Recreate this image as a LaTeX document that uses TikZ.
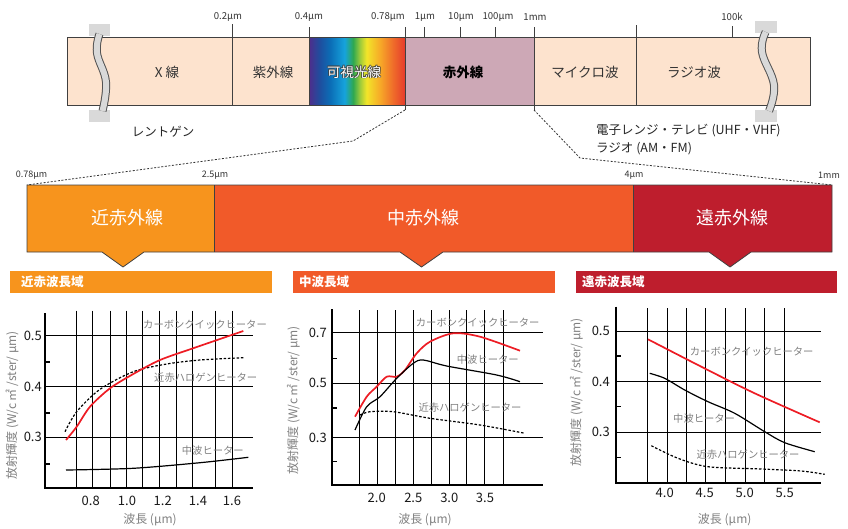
\documentclass[tikz,border=0pt]{standalone}
\usepackage{fontspec}
\setmainfont{Noto Sans CJK JP}
\definecolor{peach}{HTML}{FDE3CE}
\definecolor{mauve}{HTML}{CDA8B6}
\definecolor{orA}{HTML}{F7941D}
\definecolor{orB}{HTML}{F15A29}
\definecolor{crim}{HTML}{BE1E2D}
\definecolor{brk}{HTML}{D9D9D9}
\definecolor{edge}{HTML}{404040}
\definecolor{lblgray}{HTML}{808080}
\definecolor{curvered}{HTML}{ED1C24}
\definecolor{rbA}{HTML}{4F2D8B}
\definecolor{rbB}{HTML}{1F4E9E}
\definecolor{rbC}{HTML}{0B6DB6}
\definecolor{rbD}{HTML}{16A3DC}
\definecolor{rbE}{HTML}{2FA84F}
\definecolor{rbF}{HTML}{9CCB3B}
\definecolor{rbG}{HTML}{F2E529}
\definecolor{rbH}{HTML}{F7A928}
\definecolor{rbI}{HTML}{EF6A2A}
\definecolor{rbJ}{HTML}{E53B2C}
\pgfdeclarehorizontalshading{rainbow}{100bp}{color(0bp)=(rbA); color(25bp)=(rbA); color(30.5bp)=(rbB); color(36bp)=(rbC); color(43.5bp)=(rbD); color(48bp)=(rbE); color(51.5bp)=(rbF); color(55bp)=(rbG); color(62bp)=(rbH); color(69bp)=(rbI); color(75bp)=(rbJ); color(100bp)=(rbJ)}
\tikzset{
  toplbl/.style={font=\fontsize{9.6}{11}\selectfont, text=black!80, inner sep=0pt},
  barlbl/.style={font=\fontsize{13.5}{15}\selectfont, text=black!80, inner sep=0pt},
  midlbl/.style={font=\fontsize{18}{20}\selectfont, text=white, inner sep=0pt},
  hdrlbl/.style={font=\fontsize{12.5}{14}\selectfont\bfseries, text=white, inner sep=0pt, anchor=west},
  notelbl/.style={font=\fontsize{12.5}{14}\selectfont, text=black!85, inner sep=0pt},
  curvelbl/.style={font=\fontsize{10.3}{12}\selectfont, text=lblgray, inner sep=0pt, anchor=west},
  numlbl/.style={font=\fontsize{13}{14}\selectfont, text=black!90, inner sep=0pt},
  axtitle/.style={font=\fontsize{12}{13}\selectfont, text=lblgray, inner sep=0pt},
  gridln/.style={line width=0.9pt, black},
  axisln/.style={line width=1.8pt, black},
  minortk/.style={line width=1.4pt, black},
  redcurve/.style={line width=1.7pt, curvered},
  blkcurve/.style={line width=1.2pt, black},
  dotcurve/.style={line width=1.2pt, black, dash pattern=on 2.5pt off 1.8pt},
  edgeln/.style={line width=0.8pt, edge},
  zoomln/.style={line width=0.8pt, black!80, dash pattern=on 2pt off 1.6pt},
}
\begin{document}
\begin{tikzpicture}[x=1pt,y=-1pt]
\useasboundingbox (0,0) rectangle (848,528);
% ---------------- top spectrum bar ----------------
\fill[peach] (67,37) rectangle (810,105);
\shade[shading=rainbow] (309,37) rectangle (405,105);
\fill[mauve] (405,37) rectangle (534,105);
\draw[edgeln] (67,37) rectangle (810,105);
\draw[edgeln] (232,24) -- (232,105);
\draw[edgeln] (309,27) -- (309,105);
\draw[edgeln] (405,27) -- (405,110);
\draw[edgeln] (534,27) -- (534,110);
\draw[edgeln] (636,25) -- (636,105);
\foreach \x in {424,460,495} \draw[edgeln] (\x,27) -- (\x,37);
\draw[edgeln] (732,26) -- (732,37);
\node[toplbl] (t02) at (228,17) {0.2μm};
\node[toplbl] (t04) at (309,17) {0.4μm};
\node[toplbl] (t078) at (388,17) {0.78μm};
\node[toplbl] (t1) at (425,17) {1μm};
\node[toplbl] (t10) at (461,17) {10μm};
\node[toplbl] (t100) at (498,17) {100μm};
\node[toplbl] (t1mm) at (535,17) {1mm};
\node[toplbl] (t100k) at (732,17) {100k};
\node[barlbl] (xray) at (167,72) {X 線};
\node[barlbl] (uv) at (273,72) {紫外線};
\foreach \dx/\dy in {0.8/0,-0.8/0,0/0.8,0/-0.8,0.6/0.6,-0.6/0.6,0.6/-0.6,-0.6/-0.6}
  \node[barlbl, text=black!75, opacity=0.6] at (354+\dx,72+\dy) {可視光線};
\node[barlbl, text=white] (vis) at (354,72) {可視光線};
\node[barlbl, font=\fontsize{13.5}{15}\selectfont\bfseries, text=black] (ir) at (463,72) {赤外線};
\node[barlbl] (micro) at (585,72) {マイクロ波};
\node[barlbl] (radio) at (694,72) {ラジオ波};
% break marks
\fill[brk] (89,24) rectangle (110,36);
\fill[brk] (89,110) rectangle (110,122);
\draw[line width=8pt, edge!90] plot[smooth, tension=0.7] coordinates {(99.5,34) (97,53) (106,82) (102.5,111)};
\draw[line width=6pt, brk] plot[smooth, tension=0.7] coordinates {(99.5,34) (97,53) (106,82) (102.5,111)};
\fill[brk] (755,21) rectangle (777,33);
\fill[brk] (755,110) rectangle (777,122);
\draw[line width=8pt, edge!90] plot[smooth, tension=0.7] coordinates {(765.7,32) (762,52) (774,85) (769,111)};
\draw[line width=6pt, brk] plot[smooth, tension=0.7] coordinates {(765.7,32) (762,52) (774,85) (769,111)};
\node[notelbl, anchor=center] (xr) at (163,132) {レントゲン};
\node[notelbl, anchor=west] (mw) at (596,131) {電子レンジ・テレビ (UHF・VHF)};
\node[notelbl, anchor=west] (am) at (596,149) {ラジオ (AM・FM)};
% ---------------- zoom lines ----------------
\coordinate (a78) at (405,110);
\coordinate (a1mm) at (534,110);
\coordinate (b78) at (27,185);
\coordinate (b1mm) at (832,185);
\draw[zoomln] (a78) -- (353,141) -- (b78);
\draw[zoomln] (a1mm) -- (580,158) -- (b1mm);
% ---------------- middle IR bar ----------------
\fill[orA] (27,185) -- (214,185) -- (214,252) -- (144,252) -- (123,267) -- (102,252) -- (27,252) -- cycle;
\fill[orB] (214,185) -- (633,185) -- (633,252) -- (443,252) -- (421.5,267) -- (400,252) -- (214,252) -- cycle;
\fill[crim] (633,185) -- (832,185) -- (832,252) -- (751,252) -- (730,267) -- (709,252) -- (633,252) -- cycle;
\draw[edgeln, line join=miter] (27,185) -- (832,185) -- (832,252) -- (751,252) -- (730,267) -- (709,252) -- (443,252) -- (421.5,267) -- (400,252) -- (144,252) -- (123,267) -- (102,252) -- (27,252) -- cycle;
\draw[edgeln] (214,185) -- (214,252);
\draw[edgeln] (633,185) -- (633,252);
\node[toplbl, font=\fontsize{9}{10}\selectfont] (m078) at (31.5,175) {0.78μm};
\node[toplbl, font=\fontsize{9}{10}\selectfont] (m25) at (215,175) {2.5μm};
\node[toplbl, font=\fontsize{9}{10}\selectfont] (m4) at (634,175) {4μm};
\node[toplbl, font=\fontsize{9}{10}\selectfont] (m1mm) at (829,175) {1mm};
\node[midlbl] (nir) at (127,218) {近赤外線};
\node[midlbl] (mir) at (423,218) {中赤外線};
\node[midlbl] (fir) at (732,218) {遠赤外線};
% ---------------- headers ----------------
\fill[orA] (10,271) rectangle (272,293);
\fill[orB] (293,271) rectangle (555,293);
\fill[crim] (576,271) rectangle (837,293);
\node[hdrlbl] (h1) at (21,282) {近赤波長域};
\node[hdrlbl] (h2) at (299,282) {中波長域};
\node[hdrlbl] (h3) at (582,282) {遠赤波長域};
% ---------------- chart 1 ----------------
\foreach \x in {76,92.7,110,126,142.7,159.3,176.7,192.7,215,232.3} \draw[gridln] (\x,310.7) -- (\x,488);
\foreach \y in {335.7,386.7,437.3} \draw[gridln] (45,\y) -- (253,\y);
\foreach \y in {362,413,464} \draw[minortk] (45,\y) -- (50,\y);
\draw[axisln] (45,313) -- (45,488) -- (253,488);
\node[numlbl, anchor=east] (c1y5) at (42,335.7) {0.5};
\node[numlbl, anchor=east] (c1y4) at (42,386.7) {0.4};
\node[numlbl, anchor=east] (c1y3) at (42,437.3) {0.3};
\node[numlbl] (c1x08) at (90.7,501) {0.8};
\node[numlbl] (c1x10) at (127,501) {1.0};
\node[numlbl] (c1x12) at (162.7,501) {1.2};
\node[numlbl] (c1x14) at (198,501) {1.4};
\node[numlbl] (c1x16) at (232,501) {1.6};
\draw[dotcurve] plot[smooth] coordinates {(65,431.7) (76.7,411.7) (100,389.3) (133.3,371.7) (166.7,364) (200,360) (243.3,357.7)};
\draw[redcurve] plot[smooth] coordinates {(66,440) (76.7,426.7) (90,406.7) (110,388.3) (133.3,374) (160,360) (193,348.3) (243.3,331)};
\draw[blkcurve] plot[smooth] coordinates {(66,470) (133,468.3) (200,462.7) (248.3,457.3)};
\node[curvelbl] (c1a) at (143,325) {カーボンクイックヒーター};
\node[curvelbl] (c1b) at (154,377.3) {近赤ハロゲンヒーター};
\node[curvelbl] (c1c) at (181.7,451) {中波ヒーター};
\node[axtitle, rotate=90] (c1yt) at (12,405) {放射輝度 (W/c ㎡ /ster/ μm)};
\node[axtitle] (c1xt) at (150,520) {波長 (μm)};
% ---------------- chart 2 ----------------
\foreach \x in {359.3,377.7,395.7,413.3,431,449.3,466.7,484.3,503.3} \draw[gridln] (\x,310) -- (\x,485);
\foreach \y in {332.7,383.3,437.7} \draw[gridln] (331.7,\y) -- (543,\y);
\foreach \y in {358.3,408,461.7} \draw[minortk] (331.7,\y) -- (336.7,\y);
\draw[axisln] (331.7,309) -- (331.7,485) -- (543,485);
\node[numlbl, anchor=east] (c2y7) at (327,332.7) {0.7};
\node[numlbl, anchor=east] (c2y5) at (327,383.3) {0.5};
\node[numlbl, anchor=east] (c2y3) at (327,437.7) {0.3};
\node[numlbl] (c2x20) at (376.7,498.3) {2.0};
\node[numlbl] (c2x25) at (413.3,498.3) {2.5};
\node[numlbl] (c2x30) at (449.3,498.3) {3.0};
\node[numlbl] (c2x35) at (485,498.3) {3.5};
\draw[dotcurve] plot[smooth] coordinates {(360,415) (370,411.7) (393.3,411.7) (430,418.3) (480,425) (525,433.3)};
\draw[redcurve] plot[smooth] coordinates {(355,416.7) (366.7,396.7) (376.7,386.7) (386.7,376.7) (396.7,376.7) (405,370) (416.7,353.3) (430,341.7) (453.3,333.3) (480,336.7) (520,350.7)};
\draw[blkcurve] plot[smooth] coordinates {(355,430) (366.7,406.7) (380,396.7) (396.7,378.3) (413.3,363.3) (423.3,360) (446.7,366) (496.7,375) (520,381.7)};
\node[curvelbl] (c2a) at (415.7,322.3) {カーボンクイックヒーター};
\node[curvelbl] (c2b) at (456.7,360) {中波ヒーター};
\node[curvelbl] (c2c) at (418.3,407.3) {近赤ハロゲンヒーター};
\node[axtitle, rotate=90] (c2yt) at (293.3,400) {放射輝度 (W/c ㎡ /ster/ μm)};
\node[axtitle] (c2xt) at (425,520) {波長 (μm)};
% ---------------- chart 3 ----------------
\foreach \x in {647,667.3,686.3,705.7,725.3,745.3,764,784.7} \draw[gridln] (\x,308) -- (\x,482.7);
\foreach \y in {331,381.7,432.3} \draw[gridln] (615.7,\y) -- (821.3,\y);
\foreach \y in {356,406.7,457.7} \draw[minortk] (615.7,\y) -- (620.7,\y);
\draw[axisln] (615.7,306.7) -- (615.7,482.7) -- (821.3,482.7);
\node[numlbl, anchor=east] (c3y5) at (610,331) {0.5};
\node[numlbl, anchor=east] (c3y4) at (610,381.7) {0.4};
\node[numlbl, anchor=east] (c3y3) at (610,432.3) {0.3};
\node[numlbl] (c3x40) at (664.7,493.3) {4.0};
\node[numlbl] (c3x45) at (704.7,493.3) {4.5};
\node[numlbl] (c3x50) at (744.7,493.3) {5.0};
\node[numlbl] (c3x55) at (784.7,493.3) {5.5};
\draw[dotcurve] plot[smooth] coordinates {(651.3,445.7) (678,458.3) (708,466.7) (761.3,469) (801.3,471) (824.7,474.3)};
\draw[redcurve] plot[smooth] coordinates {(648,339.3) (701.3,366.7) (754.7,393.3) (819.7,422.3)};
\draw[blkcurve] plot[smooth] coordinates {(649.7,373.3) (664.7,378.3) (684.7,390) (708,401.7) (734.7,413.3) (764.7,431.7) (784.7,442.7) (814.7,451.7)};
\node[curvelbl] (c3a) at (689.7,351.7) {カーボンクイックヒーター};
\node[curvelbl] (c3b) at (673,418.3) {中波ヒーター};
\node[curvelbl] (c3c) at (696.3,455) {近赤ハロゲンヒーター};
\node[axtitle, rotate=90] (c3yt) at (576.3,392) {放射輝度 (W/c ㎡ /ster/ μm)};
\node[axtitle] (c3xt) at (724.7,520) {波長 (μm)};
\end{tikzpicture}
\end{document}
